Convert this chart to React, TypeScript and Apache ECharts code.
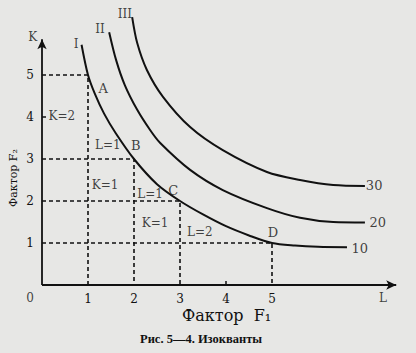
import React, { useEffect, useRef } from "react";
import * as echarts from "echarts";

const xTicks = [1, 2, 3, 4, 5];
const yTicks = [1, 2, 3, 4, 5];
const tickMarks = [4];

const curveI = [[0.86, 5.72], [1.0, 5.0], [1.15, 4.55], [1.35, 4.08], [1.6, 3.62], [2.0, 3.0], [2.5, 2.4], [3.0, 2.0], [3.5, 1.68], [4.0, 1.4], [4.5, 1.18], [5.0, 1.0], [5.5, 0.94], [6.0, 0.91], [6.63, 0.9]];
const curveII = [[1.46, 6.02], [1.61, 5.36], [1.8, 4.76], [2.07, 4.17], [2.35, 3.69], [2.57, 3.38], [3.22, 2.74], [3.93, 2.26], [4.89, 1.83], [5.61, 1.6], [6.33, 1.5], [7.02, 1.49]];
const curveIII = [[1.96, 6.38], [2.07, 5.76], [2.28, 5.12], [2.63, 4.48], [3.22, 3.76], [3.93, 3.21], [4.89, 2.69], [5.61, 2.5], [6.33, 2.38], [7.02, 2.36]];

const pointX = [1, 2, 3, 5];
const pointY = [5, 3, 2, 1];

const axisEndX = 7.7;
const axisEndY = 5.85;

// [x, y, text]
const pointLabels: [number, number, string][] = [
  [1.33, 4.69, "A"], [2.04, 3.33, "B"], [2.85, 2.26, "C"], [5.02, 1.24, "D"],
];
const stepLabels: [number, number, string][] = [
  [0.43, 4.02, "K=2"], [1.43, 3.33, "L=1"], [1.37, 2.38, "K=1"],
  [2.35, 2.17, "L=1"], [2.46, 1.48, "K=1"], [3.43, 1.26, "L=2"],
];
const curveNames: [number, number, string][] = [
  [0.74, 5.74, "I"], [1.26, 6.1, "II"], [1.8, 6.45, "III"],
];
const curveValues: [number, number, string][] = [
  [6.91, 0.88, "10"], [7.3, 1.5, "20"], [7.22, 2.36, "30"],
];
const axisNames: [number, number, string][] = [
  [-0.26, -0.31, "0"], [-0.2, 5.9, "K"], [7.41, -0.31, "L"],
];

const FONT = "DejaVu Serif";
const INK = "#111111";

function textSeries(items: [number, number, string][], size: number) {
  return {
    type: "scatter",
    symbolSize: 0,
    clip: false,
    silent: true,
    data: items.map(([x, y, t]) => ({ value: [x, y], name: t })),
    label: {
      show: true,
      position: "inside",
      formatter: (p: any) => p.name,
      fontFamily: FONT,
      fontSize: size,
      color: INK,
    },
  };
}

export default function App() {
  const ref = useRef<HTMLDivElement>(null);
  useEffect(() => {
    const chart = echarts.init(ref.current!, null, { renderer: "svg" });
    const dashed = pointX.map((x, i) => ({
      type: "line",
      symbol: "none",
      clip: false,
      silent: true,
      data: [[0, pointY[i]], [x, pointY[i]], [x, 0]],
      lineStyle: { color: INK, width: 1.6, type: [4, 3] },
      z: 1,
    }));
    const curve = (d: number[][]) => ({
      type: "line",
      symbol: "none",
      smooth: 0.3,
      clip: false,
      silent: true,
      data: d,
      lineStyle: { color: INK, width: 2 },
      z: 3,
    });
    chart.setOption({
      animation: false,
      backgroundColor: "#e7e7e5",
      grid: { left: 42, top: 12, width: 368, height: 273 },
      xAxis: {
        type: "value", min: 0, max: 8,
        axisLine: { show: false },
        splitLine: { show: false },
        axisTick: { show: true, inside: true, length: 4, customValues: tickMarks, lineStyle: { color: INK, width: 1.5 } },
        axisLabel: { customValues: xTicks, margin: 8, fontFamily: FONT, fontSize: 12, color: INK },
      },
      yAxis: {
        type: "value", min: 0, max: 6.5,
        axisLine: { show: false },
        splitLine: { show: false },
        axisTick: { show: true, inside: true, length: 4, customValues: tickMarks, lineStyle: { color: INK, width: 1.5 } },
        axisLabel: { customValues: yTicks, margin: 8, fontFamily: FONT, fontSize: 12, color: INK },
      },
      graphic: [
        { type: "text", left: 182, top: 307, style: { text: "Фактор  F₁", font: `16px "${FONT}"`, fill: INK } },
        { type: "text", left: 140, top: 332, style: { text: "Рис. 5—4. Изокванты", font: `bold 12.5px "Liberation Serif"`, fill: INK } },
        {
          type: "text", x: 13.5, y: 207, rotation: Math.PI / 2,
          style: { text: "Фактор F₂", font: `11px "${FONT}"`, fill: INK, align: "left", verticalAlign: "middle" },
        },
      ],
      series: [
        {
          type: "line",
          symbol: "none",
          data: [],
          markLine: {
            silent: true,
            symbol: ["none", "arrow"],
            symbolSize: [7, 10],
            label: { show: false },
            lineStyle: { color: INK, width: 1.8, type: "solid" },
            data: [
              [{ coord: [0, 0] }, { coord: [axisEndX, 0] }],
              [{ coord: [0, 0] }, { coord: [0, axisEndY] }],
            ],
          },
        },
        ...dashed,
        curve(curveI),
        curve(curveII),
        curve(curveIII),
        textSeries(pointLabels, 13),
        textSeries(stepLabels, 12),
        textSeries(curveNames, 12),
        textSeries(curveValues, 13),
        textSeries(axisNames, 12),
      ],
    });
    return () => chart.dispose();
  }, []);
  return <div ref={ref} style={{ position: "fixed", left: 0, top: 0, width: 416, height: 353 }} />;
}
